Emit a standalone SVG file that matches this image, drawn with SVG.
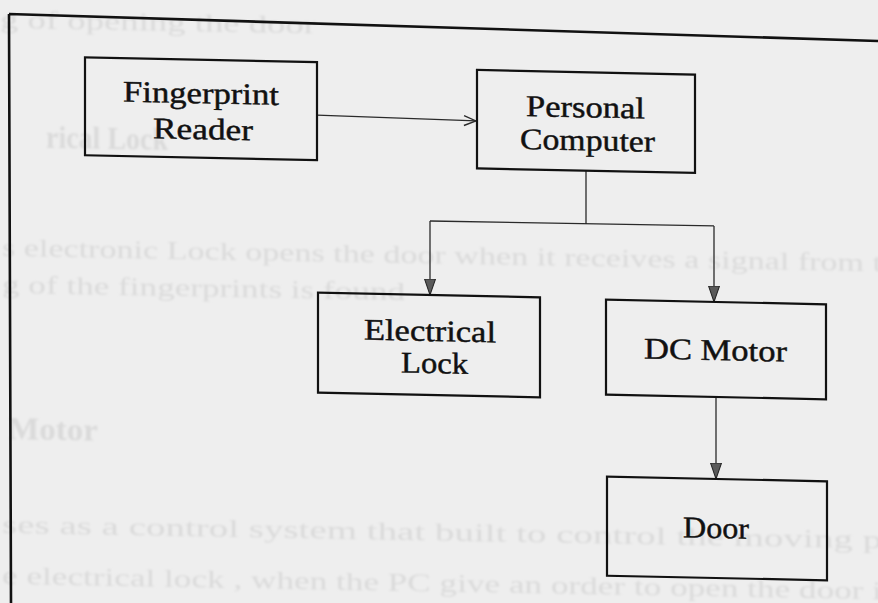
<svg xmlns="http://www.w3.org/2000/svg" width="878" height="603" viewBox="0 0 878 603">
  <defs>
    <style>
      .ghost { font-family: "Liberation Serif", "Times New Roman", serif; font-size: 26px; fill: #dadada; }
      .ghost-b { font-weight: bold; font-size: 31px; }
      .box { fill: none; stroke: #111; stroke-width: 2.2; }
      .label { font-family: "Liberation Serif", "Times New Roman", serif; font-size: 30px; fill: #111; stroke: #111; stroke-width: 0.45; }
      .wire { fill: none; stroke: #2a2a2a; stroke-width: 1.3; }
      .frame { fill: none; stroke: #111; stroke-width: 2.6; }
    </style>
    <filter id="soft" x="-5%" y="-20%" width="110%" height="140%">
      <feGaussianBlur stdDeviation="1"/>
    </filter>
    <marker id="tri" viewBox="0 0 16 12" refX="16" refY="6" markerWidth="16" markerHeight="12" markerUnits="userSpaceOnUse" orient="auto">
      <path d="M0,0.5 L16,6 L0,11.5 Z" fill="#5a5a5a" stroke="#222" stroke-width="1"/>
    </marker>
    <marker id="open" viewBox="0 0 14 12" refX="13" refY="6" markerWidth="14" markerHeight="12" markerUnits="userSpaceOnUse" orient="auto">
      <path d="M1,1 L13,6 L1,11" fill="none" stroke="#2a2a2a" stroke-width="1.4"/>
    </marker>
  </defs>

  <!-- paper -->
  <rect x="0" y="0" width="878" height="603" fill="#eeeeee"/>

  <!-- text from the reverse side of the sheet -->
  <g id="reverse-side" filter="url(#soft)" transform="skewY(1)">
    <text class="ghost" x="0" y="28" textLength="316" lengthAdjust="spacingAndGlyphs">g of opening the door</text>
    <text class="ghost ghost-b" x="46" y="147" textLength="122" lengthAdjust="spacingAndGlyphs">rical Lock</text>
    <text class="ghost" x="2" y="256" textLength="880" lengthAdjust="spacingAndGlyphs">s electronic Lock opens the door when it receives a signal from t</text>
    <text class="ghost" x="2" y="293" textLength="403" lengthAdjust="spacingAndGlyphs">g of the fingerprints is found</text>
    <text class="ghost ghost-b" x="8" y="439" textLength="90" lengthAdjust="spacingAndGlyphs">Motor</text>
    <text class="ghost" x="2" y="533" textLength="880" lengthAdjust="spacingAndGlyphs">ses as a control system that built to control  the moving p</text>
    <text class="ghost" x="2" y="584" textLength="880" lengthAdjust="spacingAndGlyphs">e electrical lock , when the PC give an order to open the door i</text>
  </g>

  <!-- outer frame -->
  <path class="frame" d="M9,14 L878,41 M9,14 L11,603"/>

  <g id="diagram" transform="skewY(1.2)">
    <g id="connectors">
      <path class="wire" d="M317,108.5 L476,111" marker-end="url(#open)"/>
      <path class="wire" d="M586,158.4 L586,211.5 M430,212 L714,211"/>
      <path class="wire" d="M430,212 L430,286" marker-end="url(#tri)"/>
      <path class="wire" d="M714,211 L714,287" marker-end="url(#tri)"/>
      <path class="wire" d="M716,382 L716,464" marker-end="url(#tri)"/>
    </g>

    <g id="fingerprint-reader">
      <rect class="box" x="85" y="55.5" width="232" height="98"/>
      <text class="label" x="123" y="99" textLength="156" lengthAdjust="spacingAndGlyphs">Fingerprint</text>
      <text class="label" x="153" y="135" textLength="100" lengthAdjust="spacingAndGlyphs">Reader</text>
    </g>

    <g id="personal-computer">
      <rect class="box" x="477" y="60" width="218" height="98.4"/>
      <text class="label" x="526" y="105" textLength="119" lengthAdjust="spacingAndGlyphs">Personal</text>
      <text class="label" x="520" y="138" textLength="135" lengthAdjust="spacingAndGlyphs">Computer</text>
    </g>

    <g id="electrical-lock">
      <rect class="box" x="318" y="286" width="222" height="100"/>
      <text class="label" x="364" y="332" textLength="132" lengthAdjust="spacingAndGlyphs">Electrical</text>
      <text class="label" x="401" y="364" textLength="67" lengthAdjust="spacingAndGlyphs">Lock</text>
    </g>

    <g id="dc-motor">
      <rect class="box" x="606" y="287" width="220" height="95"/>
      <text class="label" x="644" y="345" textLength="143" lengthAdjust="spacingAndGlyphs">DC Motor</text>
    </g>

    <g id="door">
      <rect class="box" x="607" y="464" width="220" height="99"/>
      <text class="label" x="683" y="523" textLength="66" lengthAdjust="spacingAndGlyphs">Door</text>
    </g>
  </g>
</svg>
